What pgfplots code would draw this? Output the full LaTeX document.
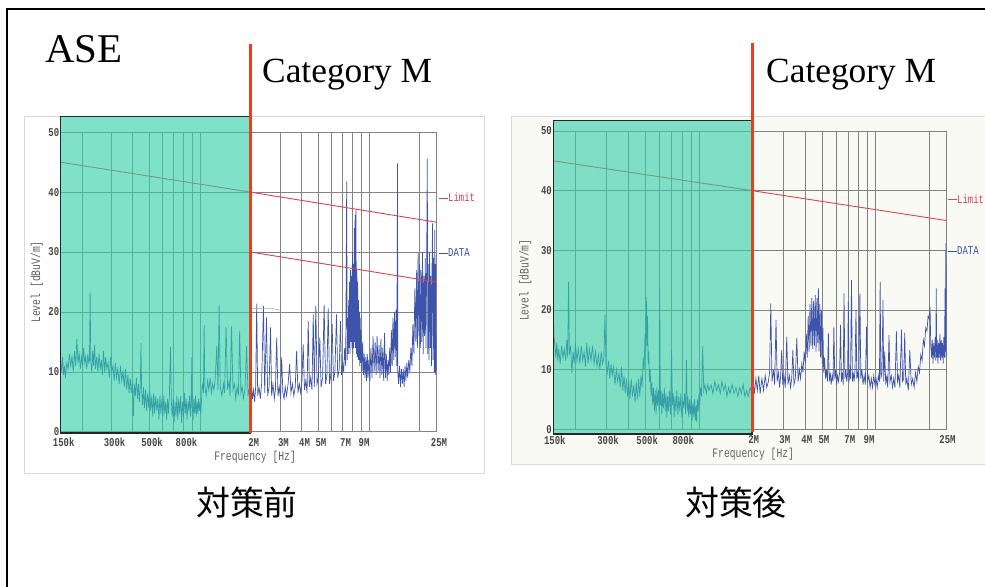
\documentclass[border=0pt]{standalone}
\usepackage{pgfplots}
\pgfplotsset{compat=1.18}
\usepackage{fontspec}
\newfontfamily\chartfont{Liberation Mono}[FakeStretch=0.75]
\newfontfamily\seriffont{Liberation Serif}
\newfontfamily\cjk{Noto Sans CJK JP}
\definecolor{tealbox}{RGB}{50,208,166}
\definecolor{trace}{RGB}{62,84,170}
\definecolor{limitred}{RGB}{222,66,80}
\definecolor{vred}{RGB}{235,62,30}
\definecolor{gridgray}{RGB}{130,130,130}
\definecolor{tickgray}{RGB}{70,70,70}
\definecolor{datablue}{RGB}{60,80,160}
\definecolor{panelbg}{RGB}{250,250,245}

\pgfplotsset{emcstyle/.style={
  xmin=0.15, xmax=25, ymin=0, ymax=50,
  scale only axis, clip=false,
  xtick={0.15,0.2,0.3,0.4,0.5,0.6,0.7,0.8,0.9,1,2,3,4,5,6,7,8,9,10,20,25},
  xticklabels={150k,,300k,,500k,,,800k,,,2M,3M,4M,5M,,7M,,9M,,,25M},
  ytick={0,10,20,30,40,50},
  grid=major, major grid style={gridgray, line width=0.55bp},
  axis line style={gridgray, line width=0.55bp},
  major tick length=0pt, minor tick length=0pt,
  tick label style={font=\chartfont\bfseries\fontsize{12}{12}\selectfont, text=tickgray},
  yticklabel style={xshift=2bp, /pgf/number format/assume math mode=true},
  label style={font=\chartfont\fontsize{13}{13}\selectfont, text=black!62},
  xlabel={Frequency [Hz]}, ylabel={Level [dBuV/m]},
}}

\begin{document}
\begin{tikzpicture}[x=1bp,y=1bp]
\useasboundingbox (0,0) rectangle (985,587);
\fill[white] (0,0) rectangle (985,587);
\draw[line width=2bp, black] (7,-5) -- (7,577.5) -- (995,577.5);
\draw[black!15, fill=white, line width=0.8bp] (24,114) rectangle (484,471);
\draw[black!15, fill=panelbg, line width=0.8bp] (511,123) rectangle (995,471);

% ---------------- left chart (before) ----------------
\begin{semilogxaxis}[emcstyle, at={(60.7bp,155.3bp)}, anchor=south west, width=375.3bp, height=299.4bp,
  xticklabel style={xshift=3bp, yshift=-3bp},
  ylabel style={at={(axis description cs:-0.064,0.5)}, anchor=center},
  xlabel style={at={(axis description cs:0.518,0)}, anchor=center, yshift=-25bp}]
\addplot[trace, line width=0.7bp] coordinates {
(0.150,12) (0.152,10) (0.154,12.5) (0.156,9.5) (0.158,11) (0.160,9) (0.163,11.5) (0.166,10.5) (0.169,13) (0.172,11)
(0.175,12.5) (0.178,10) (0.181,13.5) (0.184,11) (0.187,15.5) (0.190,11.5) (0.193,13) (0.196,10.5) (0.199,12.5) (0.202,11)
(0.205,14) (0.208,11.5) (0.211,12.5) (0.214,10.5) (0.217,13) (0.220,11.5) (0.222,12) (0.224,23.4) (0.226,12) (0.229,10)
(0.232,13.5) (0.235,11) (0.238,14.5) (0.241,10.5) (0.245,12.5) (0.249,10) (0.253,13) (0.257,10.5) (0.261,12) (0.265,9.5)
(0.269,13.5) (0.273,10) (0.277,12.5) (0.281,10.5) (0.286,11.5) (0.291,9) (0.296,12.5) (0.301,10) (0.306,11) (0.311,8.5)
(0.316,11.5) (0.321,9) (0.327,10.5) (0.333,8) (0.339,11) (0.345,8.5) (0.351,10) (0.357,7.5) (0.363,10.5) (0.369,7)
(0.375,9.5) (0.381,6.5) (0.387,9) (0.393,6.5) (0.399,8.5) (0.404,2.6) (0.409,8) (0.415,6) (0.421,9) (0.427,5.5)
(0.433,8) (0.439,5) (0.444,7.5) (0.448,14.8) (0.452,7) (0.458,4.5) (0.464,7.5) (0.470,4) (0.477,7) (0.484,3.5)
(0.491,6.5) (0.498,4) (0.505,7) (0.512,3.5) (0.519,6) (0.526,2.5) (0.533,6.5) (0.540,3) (0.548,6) (0.556,3.5)
(0.564,5.5) (0.572,2) (0.580,6) (0.588,3) (0.596,5.5) (0.604,2.5) (0.612,6) (0.620,3) (0.628,5) (0.636,2)
(0.644,5.5) (0.652,3) (0.660,6) (0.670,14.2) (0.678,5) (0.686,2.5) (0.695,5.5) (0.704,1.5) (0.713,5) (0.722,2.5)
(0.731,6) (0.740,2) (0.750,5.5) (0.760,3) (0.770,6) (0.780,1.5) (0.790,5) (0.800,2.5) (0.810,6.5) (0.820,3)
(0.830,5.5) (0.840,2) (0.850,5) (0.860,3.5) (0.870,6) (0.880,2.5) (0.890,5.5) (0.896,12.5) (0.902,4) (0.912,2)
(0.922,5.5) (0.932,3) (0.942,6) (0.952,2.5) (0.962,5) (0.972,3) (0.982,5.5) (0.992,3.5) (1.002,5) (1.012,3)
(1.02,4.5) (1.03,7.5) (1.04,8) (1.05,6.5) (1.06,17.8) (1.07,7.5) (1.09,6) (1.11,8.5) (1.13,7) (1.15,9)
(1.17,6.5) (1.19,8) (1.21,7) (1.23,8.5) (1.26,14.3) (1.28,7) (1.30,21.2) (1.32,7.5) (1.35,6) (1.38,8)
(1.40,6.5) (1.43,17.5) (1.46,7) (1.49,8.5) (1.51,6) (1.54,17.6) (1.57,7) (1.60,8) (1.63,5.5) (1.66,7.5)
(1.69,6) (1.72,16.8) (1.75,6.5) (1.78,7.5) (1.81,5.5) (1.85,7) (1.89,14.3) (1.93,6) (1.97,7.5) (2.00,6)
(2.02,8) (2.05,5.5) (2.08,7) (2.11,5) (2.14,7.5) (2.17,21.4) (2.20,6) (2.24,7.5) (2.28,5.5) (2.32,8)
(2.38,21) (2.42,6.5) (2.48,19.1) (2.52,6) (2.57,7.5) (2.62,17.4) (2.66,6) (2.71,8) (2.76,5.5) (2.80,7)
(2.85,15.7) (2.90,6) (2.95,7.5) (3.00,5.5) (3.05,12.4) (3.10,6.5) (3.15,5.5) (3.20,7.5) (3.26,6) (3.33,8)
(3.40,11.3) (3.46,6.5) (3.53,8) (3.60,6) (3.67,7.5) (3.74,13.5) (3.81,6.5) (3.88,8) (3.95,6.5) (4.02,8.5)
(4.09,14.6) (4.16,7) (4.24,8.5) (4.31,6.5) (4.38,18.5) (4.45,7.5) (4.53,9) (4.61,7) (4.69,19.6) (4.76,7.5)
(4.86,21) (4.94,8) (5.03,9) (5.13,15.7) (5.22,7.5) (5.33,9) (5.44,21.2) (5.55,8) (5.65,9.5) (5.75,20.6)
(5.86,8) (5.96,9.5) (6.07,18) (6.18,8.5) (6.30,10) (6.44,19.6) (6.55,9) (6.68,10.5) (6.80,18.5) (6.90,9.5)
(7.0,11.5) (7.1,10) (7.2,14) (7.3,11) (7.4,41.8) (7.45,12) (7.5,19) (7.55,13) (7.6,22) (7.65,14)
(7.7,25) (7.75,13) (7.8,27) (7.85,15) (7.9,26) (7.95,14) (8.0,30) (8.05,13) (8.1,28) (8.15,14)
(8.2,34) (8.25,15) (8.3,36.2) (8.35,14) (8.4,37) (8.45,13) (8.5,27) (8.55,12.5) (8.6,25) (8.65,12)
(8.7,22) (8.75,12) (8.8,20) (8.85,11) (8.9,19) (8.95,11.5) (9.0,17) (9.1,10) (9.2,15) (9.3,9.5)
(9.4,13) (9.5,9) (9.6,12.5) (9.7,8.5) (9.8,13) (9.9,9) (10.0,12) (10.15,8.5) (10.3,14) (10.45,9)
(10.6,15.9) (10.75,10) (10.9,15) (11.05,9.5) (11.2,16) (11.35,10) (11.5,14.5) (11.65,9) (11.8,15.5) (11.95,9.5)
(12.1,14) (12.25,8.5) (12.4,16.5) (12.55,9) (12.7,13) (12.85,8.5) (13.0,12) (13.15,9.5) (13.3,14) (13.45,10)
(13.6,17) (13.75,11) (13.9,19) (14.05,12) (14.2,20) (14.35,12.5) (14.5,20.4) (14.65,11) (14.8,44.8) (14.85,10)
(15.0,8) (15.2,11) (15.4,7.5) (15.6,10.5) (15.8,8) (16.0,10.5) (16.2,7.5) (16.4,11) (16.6,8.5) (16.8,11.5)
(17.0,9) (17.25,12) (17.5,10) (17.75,14) (18.0,11) (18.25,18) (18.5,13) (18.75,24) (19.0,15) (19.2,27)
(19.4,14) (19.6,29.8) (19.8,16) (20.0,28) (20.2,14) (20.4,27) (20.6,15) (20.8,30) (21.0,13) (21.2,26)
(21.4,16) (21.6,29) (21.8,14) (22.0,27) (22.2,45.6) (22.35,13) (22.5,28) (22.7,12) (22.9,30) (23.1,14)
(23.3,26) (23.5,11) (23.7,28) (23.85,34.8) (24.0,12) (24.2,29) (24.4,10) (24.6,33.7) (24.75,9.5) (24.9,28)
(25.0,10)
};
\addplot[black!35, line width=0.5bp] coordinates {(2,20.6) (2.6,20.6) (2.9,20.4) (3.05,20.2)};
\addplot[limitred, line width=0.9bp] coordinates {(0.15,45) (2,40) (25,35)};
\addplot[limitred, line width=0.9bp] coordinates {(2,30) (25,25)};
\addplot[draw=black!85, line width=1.3bp, fill=tealbox, fill opacity=0.62]
  coordinates {(0.15,-0.2) (2,-0.2) (2,52.6) (0.15,52.6)} -- cycle;
\addplot[vred, line width=3bp] coordinates {(2,-0.3) (2,64.8)};
\node[anchor=west, inner sep=0, xshift=3bp, font=\chartfont\fontsize{12}{12}\selectfont, text=limitred]
  at (axis cs:25,39.1) {\rule[3.2bp]{9bp}{0.7bp}Limit};
\node[anchor=west, inner sep=0, xshift=3bp, font=\chartfont\fontsize{12}{12}\selectfont, text=datablue]
  at (axis cs:25,29.9) {\rule[3.2bp]{9bp}{0.7bp}DATA};
\end{semilogxaxis}

% ---------------- right chart (after) ----------------
\begin{semilogxaxis}[emcstyle, at={(553.3bp,157.7bp)}, anchor=south west, width=392.7bp, height=298.3bp,
  xticklabel style={xshift=1.5bp, yshift=-3bp},
  ylabel style={at={(axis description cs:-0.0713,0.5)}, anchor=center},
  xlabel style={at={(axis description cs:0.509,0)}, anchor=center, yshift=-25bp}]
\addplot[trace, line width=0.7bp] coordinates {
(0.150,20.5) (0.151,16) (0.153,14) (0.155,12) (0.157,14.5) (0.159,11.5) (0.161,13.5) (0.164,11) (0.167,14) (0.170,12)
(0.173,13.5) (0.176,11.5) (0.179,15) (0.181,12) (0.183,24.7) (0.185,12.5) (0.188,14) (0.191,9.4) (0.194,13) (0.197,11)
(0.200,14.5) (0.204,11.5) (0.208,13.5) (0.212,11) (0.216,14) (0.220,11.5) (0.224,13) (0.228,10.5) (0.232,14.5) (0.236,11)
(0.240,13.5) (0.245,11.5) (0.250,14) (0.255,11) (0.260,13) (0.265,10.5) (0.270,12.5) (0.275,10) (0.280,13) (0.285,11)
(0.290,12) (0.294,19.2) (0.298,11) (0.303,9.5) (0.308,11.5) (0.313,8.5) (0.318,11) (0.323,9) (0.329,10.5) (0.335,7.5)
(0.341,10) (0.347,8) (0.353,9.5) (0.359,7) (0.365,10.5) (0.371,6.5) (0.377,9) (0.383,6) (0.389,8.5) (0.395,5.5)
(0.401,8) (0.407,5) (0.414,8.5) (0.421,5.5) (0.428,7.5) (0.435,4.5) (0.442,8) (0.449,5) (0.456,8.5) (0.463,5.5)
(0.470,9) (0.477,7) (0.484,12) (0.490,10) (0.495,16) (0.500,13) (0.504,22.2) (0.508,14) (0.512,19) (0.516,11)
(0.520,13) (0.525,8) (0.530,10) (0.536,5.5) (0.542,8) (0.548,4) (0.554,7) (0.560,3) (0.566,6.5) (0.572,2.5)
(0.578,7) (0.584,4) (0.590,6.5) (0.596,3) (0.600,23.6) (0.605,4) (0.611,6.5) (0.617,2.5) (0.623,6) (0.630,3.5)
(0.637,7) (0.644,3) (0.651,6) (0.658,2) (0.665,5.5) (0.672,3) (0.680,6.5) (0.690,2.5) (0.700,13.3) (0.708,4)
(0.716,6) (0.724,2) (0.732,5.5) (0.741,3) (0.750,6.5) (0.760,2.5) (0.770,5.5) (0.780,3) (0.790,6) (0.800,2)
(0.810,5) (0.820,3.5) (0.830,6) (0.840,2.5) (0.850,11.6) (0.858,3) (0.866,5.5) (0.875,2) (0.885,5) (0.895,2.5)
(0.905,5.5) (0.915,1.5) (0.925,4.5) (0.935,2) (0.945,5) (0.955,1.5) (0.965,4) (0.97,1.3) (0.98,5) (0.99,3)
(1.00,6) (1.01,4) (1.02,7) (1.035,5.5) (1.05,13.9) (1.065,6.5) (1.08,7.5) (1.10,6) (1.12,7.5) (1.14,6.5)
(1.17,7.5) (1.20,6) (1.23,8) (1.26,6.5) (1.29,7.5) (1.32,6) (1.35,8) (1.38,6.5) (1.41,7.5) (1.44,5.5)
(1.47,7) (1.50,6) (1.54,7.5) (1.58,6) (1.62,7) (1.66,5.5) (1.70,7) (1.74,6) (1.78,7.5) (1.82,5.5)
(1.86,6.5) (1.90,5.5) (1.95,7) (2.00,6)
(2.03,8) (2.06,6) (2.10,8.5) (2.14,6.5) (2.18,9) (2.22,6) (2.27,8.5) (2.32,6.5) (2.37,9) (2.42,7)
(2.47,8) (2.51,9.5) (2.55,21.1) (2.59,8) (2.64,10) (2.68,7.5) (2.73,18.3) (2.77,8) (2.82,9.5) (2.86,7)
(2.90,9) (2.94,13.3) (2.98,7.5) (3.03,9) (3.08,7) (3.14,15.5) (3.19,7.5) (3.25,9) (3.30,7) (3.35,8.5)
(3.40,13.3) (3.45,7.5) (3.51,8.5) (3.58,15.3) (3.64,8) (3.70,10) (3.76,8.5) (3.82,11) (3.88,9.5) (3.94,13)
(4.00,11) (4.05,16) (4.10,12) (4.15,19) (4.20,13) (4.25,21) (4.30,14) (4.35,22) (4.40,13.5) (4.45,21.5)
(4.50,14) (4.55,22.5) (4.60,13) (4.65,22) (4.70,14.5) (4.74,23.7) (4.78,13) (4.83,21) (4.88,12) (4.93,20)
(4.98,11) (5.03,17) (5.08,9.5) (5.14,12) (5.20,8.5) (5.26,10) (5.33,8) (5.40,16.1) (5.46,8) (5.53,9.5)
(5.60,7.5) (5.67,9) (5.74,8) (5.80,17.2) (5.87,8.5) (5.94,10) (6.01,7.5) (6.08,9) (6.16,8) (6.25,9.5)
(6.33,17.5) (6.40,8) (6.48,9.5) (6.55,7.5) (6.62,22.8) (6.70,8.5) (6.78,10) (6.86,8) (6.94,9.5) (7.00,21.4)
(7.07,8) (7.14,10) (7.20,8.5) (7.30,25) (7.38,8) (7.46,9.5) (7.55,8) (7.64,10) (7.74,20) (7.82,8.5)
(7.92,9.5) (8.02,8) (8.14,22.8) (8.24,8.5) (8.36,10) (8.48,7.5) (8.60,9) (8.74,7.5) (8.88,17.2) (9.0,8)
(9.15,9) (9.30,7) (9.45,8.5) (9.60,7) (9.75,9) (9.90,7.5) (10.05,8.5) (10.2,7) (10.35,9) (10.5,8)
(10.6,24.7) (10.7,8.5) (10.85,9.5) (11.0,21.7) (11.1,8) (11.25,13) (11.4,7.5) (11.55,9) (11.7,7) (11.9,15.8)
(12.05,8) (12.25,9) (12.45,7) (12.65,8.5) (12.85,7) (13.1,16.4) (13.3,8) (13.5,9) (13.7,7) (14.0,16.7)
(14.2,8) (14.4,8.5) (14.6,16.2) (14.8,7.5) (15.0,8.5) (15.3,6.5) (15.6,13.3) (15.9,7.5) (16.2,8.5) (16.5,7)
(16.8,9.5) (17.1,8) (17.4,10.5) (17.7,9.5) (18.0,12.5) (18.3,11.5) (18.6,15) (18.9,14) (19.2,17) (19.5,16.5)
(19.8,19) (20.1,18.5) (20.3,20.5) (20.5,14) (20.7,12) (20.9,15) (21.1,11) (21.3,14.5) (21.5,12) (21.7,15.5)
(21.9,11.5) (22.0,23.6) (22.15,12) (22.3,15) (22.5,11) (22.7,14.5) (22.9,12) (23.1,16) (23.3,11.5) (23.5,15)
(23.7,12) (23.9,14.5) (24.1,11) (24.3,15.5) (24.5,12) (24.7,23.6) (24.85,13) (24.95,31.2) (25.0,12)
};
\addplot[limitred, line width=0.9bp] coordinates {(0.15,45) (2,40) (25,35)};
\addplot[draw=black!85, line width=1.3bp, fill=tealbox, fill opacity=0.62]
  coordinates {(0.15,-0.8) (2,-0.8) (2,51.7) (0.15,51.7)} -- cycle;
\addplot[vred, line width=3bp] coordinates {(2,-0.5) (2,64.8)};
\node[anchor=west, inner sep=0, xshift=2bp, font=\chartfont\fontsize{12}{12}\selectfont, text=limitred]
  at (axis cs:25,38.6) {\rule[3.2bp]{9bp}{0.7bp}Limit};
\node[anchor=west, inner sep=0, xshift=2bp, font=\chartfont\fontsize{12}{12}\selectfont, text=datablue]
  at (axis cs:25,29.9) {\rule[3.2bp]{9bp}{0.7bp}DATA};
\end{semilogxaxis}

% ---------------- slide texts ----------------
\node[anchor=base west, inner sep=0, font=\seriffont\fontsize{41}{41}\selectfont] at (45,524) {ASE};
\node[anchor=base west, inner sep=0, font=\seriffont\fontsize{35.5}{36}\selectfont] at (262,504) {Category M};
\node[anchor=base west, inner sep=0, font=\seriffont\fontsize{35.5}{36}\selectfont] at (766,504) {Category M};
\node[inner sep=0, font=\cjk\fontsize{34}{34}\selectfont] at (247,84) {対策前};
\node[inner sep=0, font=\cjk\fontsize{34}{34}\selectfont] at (736,84) {対策後};
\end{tikzpicture}
\end{document}
